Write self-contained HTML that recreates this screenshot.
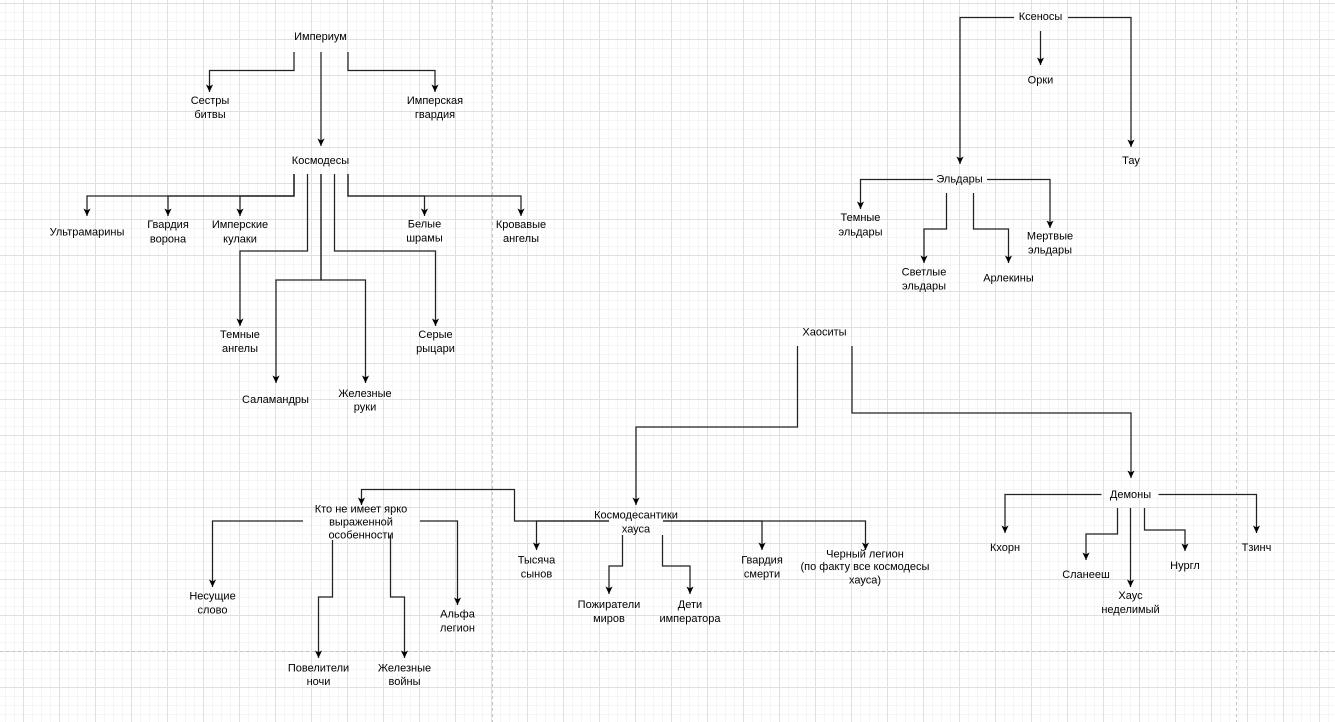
<!DOCTYPE html>
<html><head><meta charset="utf-8"><style>
html,body{margin:0;padding:0;background:#fff;}
svg{display:block;}
text{font-family:"Liberation Sans",Arial,sans-serif;font-size:11px;fill:#000;text-anchor:middle;}
.e{fill:none;stroke:#222;stroke-width:1.25;marker-end:url(#a);}
</style></head><body>
<svg width="1335" height="722" viewBox="0 0 1335 722" xmlns="http://www.w3.org/2000/svg">
<defs>
<pattern id="g" x="23" y="3" width="36" height="36" patternUnits="userSpaceOnUse">
<rect x="9" y="0" width="1" height="36" fill="#f5f5f5"/>
<rect x="18" y="0" width="1" height="36" fill="#f5f5f5"/>
<rect x="27" y="0" width="1" height="36" fill="#f5f5f5"/>
<rect x="0" y="9" width="36" height="1" fill="#f5f5f5"/>
<rect x="0" y="18" width="36" height="1" fill="#f5f5f5"/>
<rect x="0" y="27" width="36" height="1" fill="#f5f5f5"/>
<rect x="0" y="0" width="1" height="36" fill="#e0e0e0"/>
<rect x="0" y="0" width="36" height="1" fill="#e0e0e0"/>
</pattern>
<marker id="a" viewBox="0 0 8 8" refX="8" refY="4" markerWidth="7.5" markerHeight="7.5" markerUnits="userSpaceOnUse" orient="auto">
<path d="M0,0.2 L8,4 L0,7.8 L2,4 Z" fill="#000"/>
</marker>
</defs>
<rect width="1335" height="722" fill="#fff"/>
<rect width="1335" height="722" fill="url(#g)" shape-rendering="crispEdges"/>
<g stroke="#c4c4c4" stroke-width="1" stroke-dasharray="3,3" fill="none">
<line x1="492.5" y1="0" x2="492.5" y2="722"/>
<line x1="1236.5" y1="0" x2="1236.5" y2="722"/>
<line x1="0" y1="651.5" x2="1335" y2="651.5"/>
</g>

<!-- Империум -->
<polyline class="e" points="294,52 294,70.5 209.5,70.5 209.5,92"/>
<polyline class="e" points="321,52 321,146"/>
<polyline class="e" points="348,52 348,70.5 435,70.5 435,92"/>

<!-- Космодесы -->
<polyline class="e" points="294,174 294,196 87,196 87,216"/>
<polyline class="e" points="294,174 294,196 168,196 168,216"/>
<polyline class="e" points="294,174 294,196 240,196 240,216"/>
<polyline class="e" points="307.5,174 307.5,251 240,251 240,326"/>
<polyline class="e" points="321,174 321,280 276,280 276,383"/>
<polyline class="e" points="321,174 321,280 365.5,280 365.5,383"/>
<polyline class="e" points="334.5,174 334.5,251 435.5,251 435.5,326"/>
<polyline class="e" points="348,174 348,196 424.5,196 424.5,216"/>
<polyline class="e" points="348,174 348,196 521,196 521,216"/>

<!-- Ксеносы -->
<polyline class="e" points="1014,17.5 960,17.5 960,164"/>
<polyline class="e" points="1040.5,31 1040.5,65"/>
<polyline class="e" points="1068,17.5 1131,17.5 1131,147"/>

<!-- Эльдары -->
<polyline class="e" points="933,179.5 860.5,179.5 860.5,209"/>
<polyline class="e" points="987,179.5 1050,179.5 1050,228"/>
<polyline class="e" points="946.5,193 946.5,229 924,229 924,263"/>
<polyline class="e" points="973.5,193 973.5,229 1008.5,229 1008.5,263"/>

<!-- Хаоситы -->
<polyline class="e" points="797.5,346 797.5,427 636,427 636,505"/>
<polyline class="e" points="852,346 852,413 1131,413 1131,478"/>

<!-- Космодесантики хауса -->
<polyline class="e" points="609,521 536.5,521 536.5,550"/>
<polyline class="e" points="609,521 514.5,521 514.5,489.5 361.5,489.5 361.5,505"/>
<polyline class="e" points="663,521 762,521 762,550"/>
<polyline class="e" points="663,521 865.5,521 865.5,550"/>
<polyline class="e" points="622.5,535 622.5,566 609,566 609,594"/>
<polyline class="e" points="662.5,535 662.5,566 690,566 690,594"/>

<!-- Кто не имеет -->
<polyline class="e" points="303,521 212.5,521 212.5,587"/>
<polyline class="e" points="420,521 457.5,521 457.5,605"/>
<polyline class="e" points="332.5,540 332.5,597 318.5,597 318.5,658"/>
<polyline class="e" points="390.5,535 390.5,597 404.5,597 404.5,658"/>

<!-- Демоны -->
<polyline class="e" points="1101.5,494.5 1005,494.5 1005,533"/>
<polyline class="e" points="1158.5,494.5 1256.5,494.5 1256.5,533"/>
<polyline class="e" points="1117.5,508 1117.5,534 1086,534 1086,560"/>
<polyline class="e" points="1130.5,508 1130.5,587"/>
<polyline class="e" points="1144.5,508 1144.5,530 1185,530 1185,551"/>

<!-- Labels -->
<text x="320.5" y="40">Империум</text>
<text x="210" y="104">Сестры</text><text x="210" y="118">битвы</text>
<text x="435" y="104">Имперская</text><text x="435" y="118">гвардия</text>
<text x="320.5" y="164">Космодесы</text>
<text x="87" y="235.5">Ультрамарины</text>
<text x="168" y="228">Гвардия</text><text x="168" y="242.5">ворона</text>
<text x="240" y="228">Имперские</text><text x="240" y="242.5">кулаки</text>
<text x="424.5" y="227.5">Белые</text><text x="424.5" y="241.5">шрамы</text>
<text x="521" y="228">Кровавые</text><text x="521" y="242">ангелы</text>
<text x="240" y="338">Темные</text><text x="240" y="352">ангелы</text>
<text x="435.5" y="338">Серые</text><text x="435.5" y="352">рыцари</text>
<text x="275.5" y="403">Саламандры</text>
<text x="365" y="397">Железные</text><text x="365" y="410.5">руки</text>

<text x="1040.5" y="20">Ксеносы</text>
<text x="1040.5" y="83.5">Орки</text>
<text x="1131" y="164">Тау</text>
<text x="959.5" y="182.5">Эльдары</text>
<text x="860.5" y="221">Темные</text><text x="860.5" y="235.5">эльдары</text>
<text x="1050" y="239.5">Мертвые</text><text x="1050" y="253.5">эльдары</text>
<text x="924" y="275.5">Светлые</text><text x="924" y="289.5">эльдары</text>
<text x="1008.5" y="281.5">Арлекины</text>

<text x="824.5" y="335.5">Хаоситы</text>
<text x="636" y="518.5">Космодесантики</text><text x="636" y="532.5">хауса</text>
<text x="536.5" y="563.5">Тысяча</text><text x="536.5" y="577.5">сынов</text>
<text x="609" y="608">Пожиратели</text><text x="609" y="622">миров</text>
<text x="690" y="608">Дети</text><text x="690" y="622">императора</text>
<text x="762" y="563.5">Гвардия</text><text x="762" y="577.5">смерти</text>
<text x="865" y="557.5">Черный легион</text><text x="865" y="570">(по факту все космодесы</text><text x="865" y="583.5">хауса)</text>

<text x="361" y="512.5">Кто не имеет ярко</text><text x="361" y="525.5">выраженной</text><text x="361" y="538.5">особенности</text>
<text x="212.5" y="599.5">Несущие</text><text x="212.5" y="613.5">слово</text>
<text x="457.5" y="617.5">Альфа</text><text x="457.5" y="631.5">легион</text>
<text x="318.5" y="671.5">Повелители</text><text x="318.5" y="685">ночи</text>
<text x="404.5" y="671.5">Железные</text><text x="404.5" y="685">войны</text>

<text x="1130.5" y="498">Демоны</text>
<text x="1005" y="551">Кхорн</text>
<text x="1256.5" y="551">Тзинч</text>
<text x="1086" y="578">Сланееш</text>
<text x="1130.5" y="599">Хаус</text><text x="1130.5" y="613">неделимый</text>
<text x="1185" y="569">Нургл</text>
</svg>
</body></html>
